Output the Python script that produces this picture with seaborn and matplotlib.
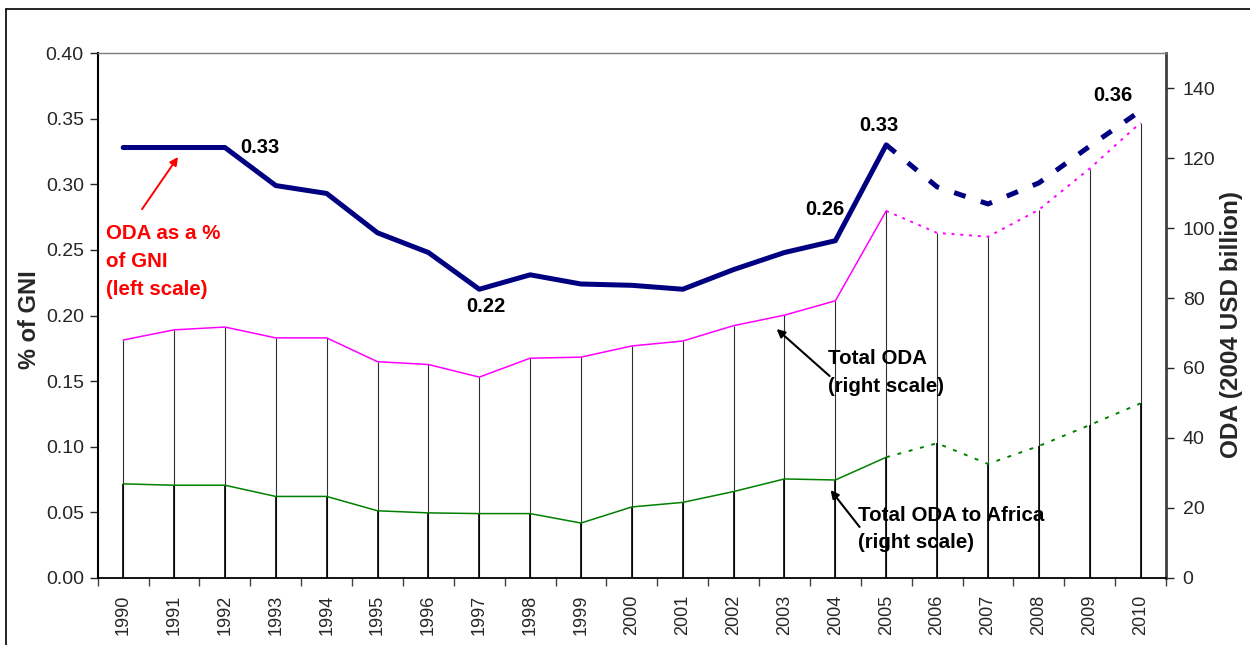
import matplotlib
matplotlib.use("Agg")
import matplotlib.pyplot as plt
from matplotlib.lines import Line2D
import seaborn as sns
import numpy as np
import pandas as pd

# ---- data ----
years = [str(y) for y in range(1990, 2011)]
oda_pct_gni = [0.328, 0.328, 0.328, 0.299, 0.293, 0.263, 0.248, 0.220, 0.231, 0.224,
               0.223, 0.220, 0.235, 0.248, 0.257, 0.330, 0.298, 0.285, 0.301, 0.329, 0.356]
total_oda = [68.0, 70.9, 71.7, 68.6, 68.6, 61.8, 61.0, 57.4, 62.8, 63.1,
             66.3, 67.7, 72.1, 75.1, 79.2, 104.9, 98.6, 97.5, 105.2, 117.0, 130.1]
oda_africa = [26.9, 26.5, 26.5, 23.3, 23.3, 19.2, 18.6, 18.4, 18.4, 15.7,
              20.3, 21.6, 24.7, 28.3, 28.0, 34.5, 38.5, 32.6, 37.7, 43.7, 49.9]
split_year = "2005"   # actual data up to here, projections afterwards

df = pd.DataFrame({"year": years, "pct": oda_pct_gni,
                   "total": total_oda, "africa": oda_africa})
df["pos"] = np.arange(len(df))
k = years.index(split_year)
actual = df.iloc[:k + 1]
proj = df.iloc[k:]

sns.set_style("ticks")
plt.rcParams["font.family"] = ["Liberation Sans", "DejaVu Sans"]

fig = plt.figure(figsize=(12.5, 6.45), dpi=100)
ax = fig.add_axes([0.0782, 0.1039, 0.8546, 0.8139])
ax2 = ax.twinx()
ax.set_zorder(ax2.get_zorder() + 1)
ax.patch.set_visible(False)

# drop lines
ax2.vlines(df["pos"], 0, df["total"], color="#303030", lw=0.8, zorder=1)
ax2.vlines(df["pos"], 0, df["africa"], color="black", lw=1.2, zorder=1)

# right-scale series
sns.lineplot(data=actual, x="pos", y="total", ax=ax2, color="#FF00FF", lw=1.1, zorder=3)
sns.lineplot(data=proj, x="pos", y="total", ax=ax2, color="#FF00FF", lw=1.4,
             linestyle=(0, (1.5, 3)), zorder=3)
sns.lineplot(data=actual, x="pos", y="africa", ax=ax2, color="#008000", lw=1.1, zorder=3)
sns.lineplot(data=proj, x="pos", y="africa", ax=ax2, color="#008000", lw=1.4,
             linestyle=(0, (2, 4)), zorder=3)

# left-scale series
sns.lineplot(data=actual, x="pos", y="pct", ax=ax, color="#000080", lw=3.6, zorder=4)
sns.lineplot(data=proj, x="pos", y="pct", ax=ax, color="#000080", lw=3.6,
             linestyle=(0, (2.4, 3.2)), zorder=4)

# axes
ax.set_xlim(-0.5, len(years) - 0.5)
ax.set_ylim(0, 0.40)
ax2.set_ylim(0, 150)
ax.set_yticks(np.arange(0, 0.401, 0.05))
ax.set_yticklabels([f"{v:.2f}" for v in np.arange(0, 0.401, 0.05)])
ax2.set_yticks(np.arange(0, 141, 20))

ax.set_xticks(np.arange(-0.5, len(years), 1.0))
ax.set_xticklabels([])
ax.set_xticks(df["pos"], minor=True)
ax.set_xticklabels(years, minor=True, rotation=90)
ax.tick_params(axis="x", which="major", length=6, width=1, color="#404040", direction="out")
ax.tick_params(axis="x", which="minor", length=0, labelsize=13, pad=12)
ax.tick_params(axis="y", length=6, width=1, labelsize=14, direction="out", pad=4)
ax2.tick_params(axis="y", length=6, width=1, labelsize=14, direction="out", pad=6)

for a in (ax, ax2):
    a.grid(False)
    a.set_xlabel("")
ax.set_ylabel("% of GNI", fontsize=17, fontweight="bold")
ax.yaxis.set_label_coords(-0.053, 0.493)
ax2.set_ylabel("ODA (2004 USD billion)", fontsize=17.5, fontweight="bold")
ax2.yaxis.set_label_coords(1.051, 0.482)

ax.spines["left"].set_color("black")
ax.spines["left"].set_linewidth(1.5)
ax.spines["bottom"].set_color("black")
ax.spines["bottom"].set_linewidth(1.3)
ax.spines["top"].set_color("#808080")
ax.spines["top"].set_linewidth(1.0)
ax.spines["right"].set_visible(False)
ax2.spines["right"].set_color("#404040")
ax2.spines["right"].set_linewidth(2.0)
ax2.spines["top"].set_color("#808080")
ax2.spines["left"].set_visible(False)
ax2.spines["bottom"].set_visible(False)

# value labels
lab = dict(fontsize=14.5, fontweight="bold", color="black", zorder=6)
ax.text(2.30, 0.328, "0.33", ha="left", va="center", **lab)
ax.text(7.13, 0.2065, "0.22", ha="center", va="center", **lab)
ax.text(13.79, 0.281, "0.26", ha="center", va="center", **lab)
ax.text(14.85, 0.3446, "0.33", ha="center", va="center", **lab)
ax.text(19.45, 0.368, "0.36", ha="center", va="center", **lab)

# annotations
ann = dict(fontsize=14.8, fontweight="bold", ha="left", va="top", zorder=6)
ax.text(-0.337, 0.270, "ODA as a %\nof GNI\n(left scale)", color="#FF0000",
        linespacing=1.6, **ann)
ax.annotate("", xy=(1.078, 0.3208), xytext=(0.370, 0.281),
            arrowprops=dict(arrowstyle="-|>", color="#FF0000", lw=1.4, mutation_scale=12,
                            shrinkA=0, shrinkB=0), zorder=6)
ax.text(13.85, 0.1745, "Total ODA\n(right scale)", color="black", linespacing=1.57, **ann)
ax.annotate("", xy=(12.846, 0.1897), xytext=(13.887, 0.1539),
            arrowprops=dict(arrowstyle="-|>", color="black", lw=1.5, mutation_scale=12,
                            shrinkA=0, shrinkB=0), zorder=6)
ax.text(14.455, 0.0549, "Total ODA to Africa\n(right scale)", color="black",
        linespacing=1.57, **ann)
ax.annotate("", xy=(13.906, 0.067), xytext=(14.476, 0.0389),
            arrowprops=dict(arrowstyle="-|>", color="black", lw=1.5, mutation_scale=12,
                            shrinkA=0, shrinkB=0), zorder=6)

# outer frame of the chart area
fig.add_artist(Line2D([5.5 / 1250, 1.0], [1 - 9 / 645, 1 - 9 / 645],
                      transform=fig.transFigure, color="black", lw=1.2))
fig.add_artist(Line2D([5.5 / 1250, 5.5 / 1250], [1 - 9 / 645, 0.0],
                      transform=fig.transFigure, color="black", lw=1.2))

fig.savefig("out.png", dpi=100)
